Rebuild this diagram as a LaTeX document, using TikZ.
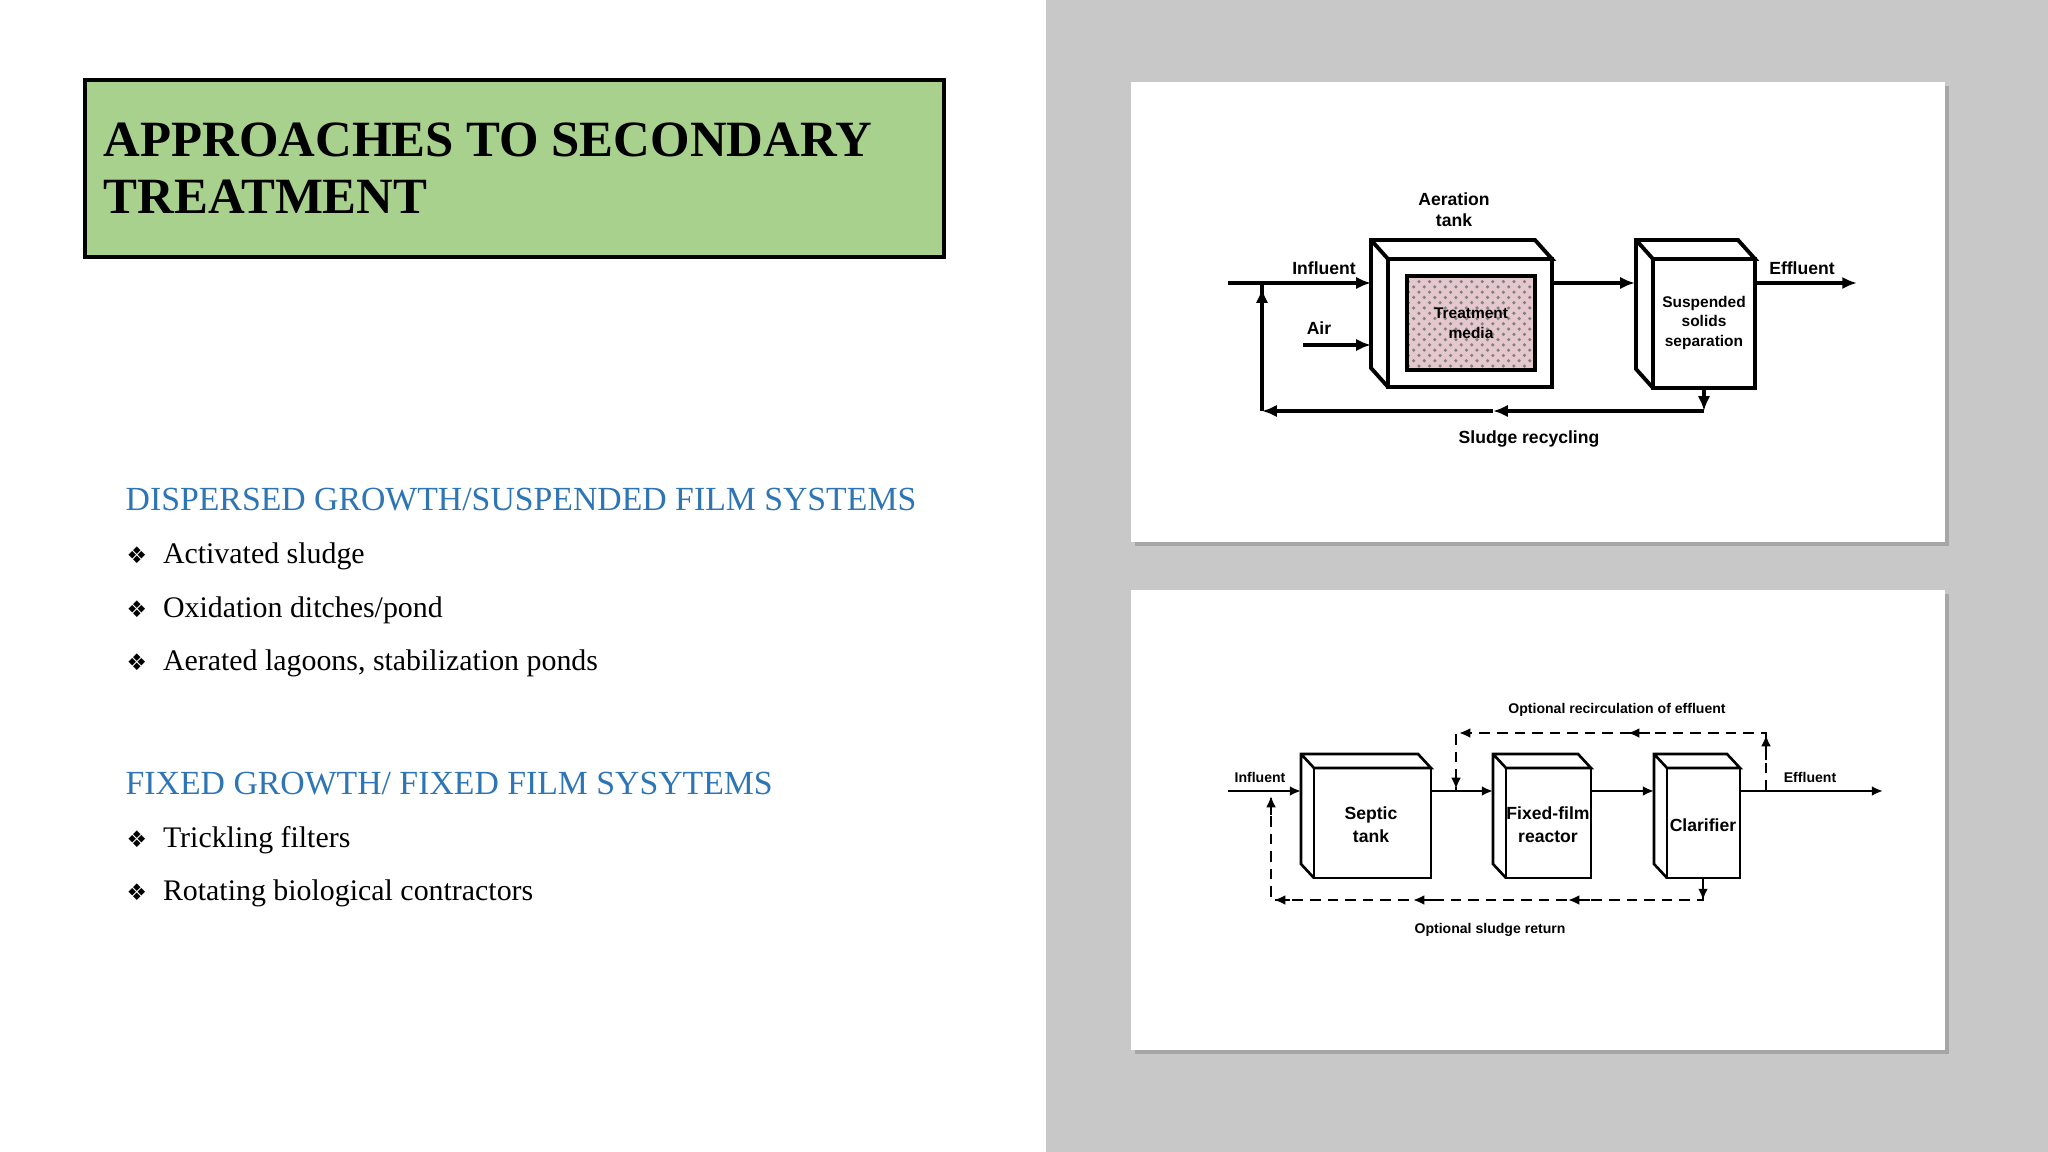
\documentclass[tikz,border=0pt]{standalone}
\usepackage{fontspec}
\setmainfont{Liberation Serif}
\newfontfamily\dsans{Liberation Sans}
\newfontfamily\dejavu{DejaVu Sans}
\usetikzlibrary{arrows.meta,patterns}
\definecolor{titlegreen}{RGB}{169,209,142}
\definecolor{headblue}{RGB}{46,117,182}
\definecolor{bggray}{RGB}{200,200,200}
\definecolor{medpink}{RGB}{228,200,205}
\tikzset{
  lbl/.style={font=\dsans\bfseries\fontsize{5}{6}\selectfont,align=center,inner sep=0pt},
  lbltwo/.style={font=\dsans\bfseries\fontsize{4}{5}\selectfont,align=center,inner sep=0pt},
  flowA/.style={line width=1.1pt,-{Latex[length=4.2pt,width=3.5pt]}},
  plainA/.style={line width=1.1pt},
  flowB/.style={line width=0.75pt,-{Latex[length=3.2pt,width=2.8pt]}},
  dashB/.style={line width=0.75pt,dash pattern=on 3pt off 2pt},
  bullet/.style={anchor=west,font=\fontsize{8.5}{10}\selectfont,inner sep=0pt},
  head/.style={anchor=west,font=\fontsize{9.6}{11}\selectfont,text=headblue,inner sep=0pt},
  panel/.style={fill=white},
  shadow/.style={fill=gray!70}
}
\newcommand\bsym{{\dejavu\fontsize{6.5}{8}\selectfont ❖}\hspace{4.5pt}}
\newcommand\cubebox[6]{% name, x1,y1,x2,y2, width
  \draw[line width=#6] (#2,#5) -- ++(-17,-19) -- ++(0,{#3-#5}) -- ++({#4-#2},0) -- (#4,#3) -- (#2,#3) -- ++(-17,-19);
  \draw[line width=#6] (#2,#3) rectangle (#4,#5);
  \coordinate (#1) at ({(#2+#4)/2},{(#3+#5)/2});
}
\newcommand\cubeboxb[6]{%
  \draw[line width=#6] (#2,#5) -- ++(-13,-14) -- ++(0,{#3-#5}) -- ++({#4-#2},0) -- (#4,#3) -- (#2,#3) -- ++(-13,-14);
  \draw[line width=#6] (#2,#3) rectangle (#4,#5);
  \coordinate (#1) at ({(#2+#4)/2},{(#3+#5)/2});
}
\begin{document}
\begin{tikzpicture}[x=0.01cm,y=-0.01cm]
\useasboundingbox (0,0) rectangle (2048,1152);
\fill[white] (0,0) rectangle (1046,1152);
\fill[bggray] (1046,0) rectangle (2048,1152);
% title
\draw[fill=titlegreen,line width=1.4pt] (85,80) rectangle (944,257);
\node[anchor=west,align=left,inner sep=0pt,font=\bfseries\fontsize{14.45}{16.2}\selectfont] (title) at (103,168) {APPROACHES TO SECONDARY\\TREATMENT};
% lists
\node[head] (h1) at (125,500) {DISPERSED GROWTH/SUSPENDED FILM SYSTEMS};
\node[bullet] (b1) at (126,556) {\bsym Activated sludge};
\node[bullet] (b2) at (126,610) {\bsym Oxidation ditches/pond};
\node[bullet] (b3) at (126,663) {\bsym Aerated lagoons, stabilization ponds};
\node[head] (h2) at (125,784) {FIXED GROWTH/ FIXED FILM SYSYTEMS};
\node[bullet] (b4) at (126,840) {\bsym Trickling filters};
\node[bullet] (b5) at (126,893) {\bsym Rotating biological contractors};
% panels
\fill[shadow] (1135,86) rectangle (1949,546);
\fill[panel] (1131,82) rectangle (1945,542);
\fill[shadow] (1135,594) rectangle (1949,1054);
\fill[panel] (1131,590) rectangle (1945,1050);
% ---- diagram 1
\cubebox{tank}{1388}{259}{1552}{387}{1.1pt}
\draw[line width=1.1pt,fill=medpink] (1407,276) rectangle (1535,370);
\fill[pattern=crosshatch dots,pattern color=gray] (1407,276) rectangle (1535,370);
\draw[line width=1.1pt] (1407,276) rectangle (1535,370);
\cubebox{sep}{1653}{259}{1755}{388}{1.1pt}
\coordinate (inS) at (1228,283); \coordinate (inE) at (1371,283);
\coordinate (airS) at (1303,345); \coordinate (airE) at (1371,345);
\coordinate (tkO) at (1552,283); \coordinate (spI) at (1635,283);
\coordinate (spO) at (1755,283); \coordinate (efE) at (1857,283);
\coordinate (spB) at (1704,388); \coordinate (rc1) at (1704,411);
\coordinate (rcM) at (1493,411); \coordinate (rc2) at (1262,411);
\coordinate (rcU) at (1262,283);
\draw[flowA] (inS) -- (inE);
\draw[flowA] (airS) -- (airE);
\draw[flowA] (tkO) -- (spI);
\draw[flowA] (spO) -- (efE);
\draw[flowA] (spB) -- (rc1);
\draw[flowA] (rc1) -- (rcM);
\draw[flowA] (rcM) -- (rc2);
\draw[plainA] (rc2) -- (rcU);
\draw[flowA] (rc2) -- (1262,288);
\node[lbl] (l1) at (1454,210) {Aeration\\tank};
\node[lbl] (l2) at (1324,268) {Influent};
\node[lbl] (l3) at (1319,328) {Air};
\node[lbl] (l4) at (1802,268) {Effluent};
\node[lbl,font=\dsans\bfseries\fontsize{4.4}{5.6}\selectfont] (l5) at (1704,323) {Suspended\\solids\\separation};
\node[lbl,font=\dsans\bfseries\fontsize{4.4}{5.6}\selectfont] (l6) at (1471,323) {Treatment\\media};
\node[lbl] (l7) at (1529,439) {Sludge recycling};
% ---- diagram 2
\cubeboxb{sep2}{1314}{768}{1431}{878}{0.75pt}
\cubeboxb{ff}{1506}{768}{1591}{878}{0.75pt}
\cubeboxb{cl}{1667}{768}{1740}{878}{0.75pt}
\coordinate (a1) at (1228,791); \coordinate (a2) at (1301,791);
\coordinate (a3) at (1431,791); \coordinate (a4) at (1493,791);
\coordinate (a5) at (1591,791); \coordinate (a6) at (1654,791);
\coordinate (a7) at (1740,791); \coordinate (a8) at (1883,791);
\draw[flowB] (a1) -- (a2);
\draw[flowB] (a3) -- (a4);
\draw[flowB] (a5) -- (a6);
\draw[flowB] (a7) -- (a8);
% recirculation
\coordinate (r0) at (1766,791); \coordinate (r1) at (1766,733);
\coordinate (rm) at (1628,733); \coordinate (r2) at (1456,733);
\coordinate (r3) at (1456,791);
\draw[dashB] (r0) -- (r1) -- (r2) -- (r3);
\draw[flowB] (1766,760) -- (1766,735);
\draw[flowB] (1650,733) -- (rm);
\draw[flowB] (1470,733) -- (1459,733);
\draw[flowB] (1456,770) -- (1456,789);
% sludge return
\coordinate (s0) at (1703,878); \coordinate (s1) at (1703,900);
\coordinate (s2) at (1271,900); \coordinate (s3) at (1271,793);
\draw[dashB] (s0) -- (s1) -- (s2) -- (s3);
\draw[flowB] (1703,885) -- (1703,900);
\draw[flowB] (1590,900) -- (1568,900);
\draw[flowB] (1435,900) -- (1413,900);
\draw[flowB] (1290,900) -- (1274,900);
\draw[flowB] (1271,815) -- (1271,796);
\node[lbltwo] (m1) at (1260,777) {Influent};
\node[lbltwo] (m2) at (1810,777) {Effluent};
\node[lbltwo] (m3) at (1617,710) {Optional recirculation of effluent};
\node[lbltwo] (m4) at (1490,930) {Optional sludge return};
\node[lbltwo,font=\dsans\bfseries\fontsize{5}{6.6}\selectfont] (m5) at (1371,825) {Septic\\tank};
\node[lbltwo,font=\dsans\bfseries\fontsize{5}{6.6}\selectfont] (m6) at (1548,825) {Fixed-film\\reactor};
\node[lbltwo,font=\dsans\bfseries\fontsize{5}{6.6}\selectfont] (m7) at (1703,825) {Clarifier};
\end{tikzpicture}
\end{document}
